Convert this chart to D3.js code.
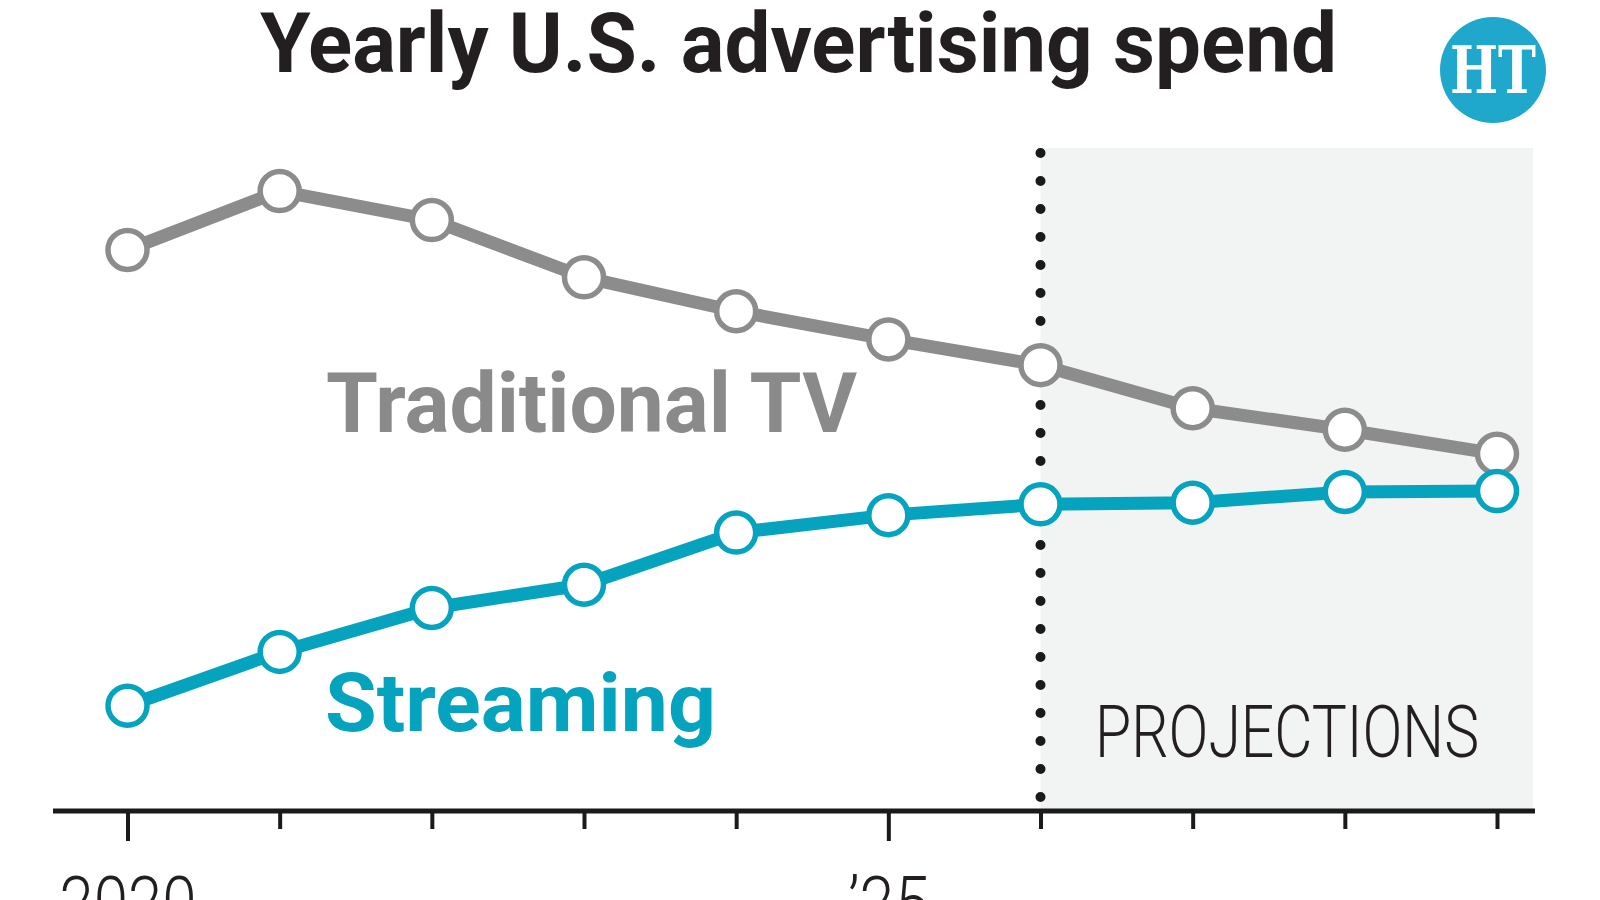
<!DOCTYPE html>
<html>
<head>
<meta charset="utf-8">
<script src="https://cdn.jsdelivr.net/npm/d3@7"></script>
<style>
  html, body { margin: 0; padding: 0; background: #ffffff; }
  svg { display: block; }
</style>
</head>
<body>
<svg id="chart" width="1600" height="900"></svg>
<script>
// ---------- DATA ----------
const years = [2020, 2021, 2022, 2023, 2024, 2025, 2026, 2027, 2028, 2029];
const traditionalTV = [67.7, 74.8, 71.3, 64.4, 60.3, 56.9, 53.8, 48.6, 46.0, 43.1];
const streaming = [12.7, 19.2, 24.5, 27.3, 33.6, 35.7, 37.0, 37.2, 38.5, 38.6];
const labeledYears = [2020, 2025];
const labeledTexts = ["2020", "\u201925"];
const projectionStart = 2026;
const seriesNames = ["Traditional TV", "Streaming"];
const titleText = "Yearly U.S. advertising spend";
const projectionText = "PROJECTIONS";

// ---------- LAYOUT ----------
const W = 1600, H = 900;
const axisY = 811, plotTop = 148;
const svg = d3.select("#chart");
const grey = "#8c8c8c", teal = "#06a3bf";
const boldFont = "Roboto, 'Noto Sans', sans-serif";

const x = d3.scaleLinear().domain([2020, 2029]).range([127.5, 1497]);
const y = d3.scaleLinear().domain([0, 80]).range([axisY, plotTop]);

// Title
svg.append("text")
  .attr("x", 260).attr("y", 72)
  .attr("font-family", boldFont).attr("font-weight", 700)
  .attr("font-size", 84).attr("fill", "#231f20")
  .attr("textLength", 1077).attr("lengthAdjust", "spacingAndGlyphs")
  .text(titleText);

// Logo
const logo = svg.append("g").attr("transform", "translate(1493,70)");
logo.append("circle").attr("r", 53).attr("fill", "#1fa8cb");
logo.append("text")
  .attr("x", 0).attr("y", 23).attr("text-anchor", "middle")
  .attr("font-family", "'DejaVu Serif', serif").attr("font-weight", 700)
  .attr("font-size", 66).attr("fill", "#ffffff")
  .attr("textLength", 86).attr("lengthAdjust", "spacingAndGlyphs")
  .text("HT");

// Projection shading
svg.append("rect")
  .attr("x", x(projectionStart)).attr("y", plotTop)
  .attr("width", 1533 - x(projectionStart)).attr("height", axisY - plotTop)
  .attr("fill", "#f2f3f3");

// Dotted divider
svg.append("line")
  .attr("x1", x(projectionStart)).attr("x2", x(projectionStart))
  .attr("y1", 153).attr("y2", 800)
  .attr("stroke", "#1a1a1a").attr("stroke-width", 10)
  .attr("stroke-linecap", "round").attr("stroke-dasharray", "0 28");

// PROJECTIONS label
svg.append("text")
  .attr("x", 1095).attr("y", 757)
  .attr("font-family", "Roboto, 'Noto Sans', sans-serif").attr("font-weight", 300)
  .attr("font-size", 72).attr("fill", "#231f20")
  .attr("textLength", 384).attr("lengthAdjust", "spacingAndGlyphs")
  .text(projectionText);

// Series labels
svg.append("text")
  .attr("x", 326).attr("y", 432)
  .attr("font-family", boldFont).attr("font-weight", 700)
  .attr("font-size", 84).attr("fill", "#8a8a8a")
  .attr("textLength", 531).attr("lengthAdjust", "spacingAndGlyphs")
  .text(seriesNames[0]);
svg.append("text")
  .attr("x", 325).attr("y", 731)
  .attr("font-family", boldFont).attr("font-weight", 700)
  .attr("font-size", 82).attr("fill", teal)
  .attr("textLength", 391).attr("lengthAdjust", "spacingAndGlyphs")
  .text(seriesNames[1]);

// Axis baseline
svg.append("line")
  .attr("x1", 53).attr("x2", 1535).attr("y1", axisY).attr("y2", axisY)
  .attr("stroke", "#1a1a1a").attr("stroke-width", 5);

// Axis ticks & labels via d3 axis
const axis = d3.axisBottom(x)
  .tickValues(years)
  .tickSize(18)
  .tickFormat(d => { const i = labeledYears.indexOf(d); return i >= 0 ? labeledTexts[i] : ""; });
const gAxis = svg.append("g").attr("transform", `translate(0,${axisY})`).call(axis);
gAxis.select(".domain").remove();
gAxis.selectAll(".tick line")
  .attr("stroke", "#1a1a1a").attr("stroke-width", 4)
  .attr("y2", d => labeledYears.includes(d) ? 30 : 18);
gAxis.selectAll(".tick text")
  .attr("y", 117).attr("dy", 0)
  .attr("font-family", "Roboto, 'Noto Sans', sans-serif").attr("font-weight", 300)
  .attr("font-size", 72).attr("fill", "#231f20")
  .each(function(d) {
    const i = labeledYears.indexOf(d);
    if (i >= 0) d3.select(this).attr("textLength", i === 0 ? 137 : 81).attr("lengthAdjust", "spacingAndGlyphs");
  });

// Series lines & markers
const series = [
  { name: seriesNames[0], values: traditionalTV, color: grey },
  { name: seriesNames[1], values: streaming, color: teal }
];
const line = d3.line().x((d, i) => x(years[i])).y(d => y(d));
series.forEach(s => {
  const g = svg.append("g");
  g.append("path")
    .attr("d", line(s.values))
    .attr("fill", "none").attr("stroke", s.color)
    .attr("stroke-width", 13).attr("stroke-linejoin", "round");
  g.selectAll("circle").data(s.values).join("circle")
    .attr("cx", (d, i) => x(years[i])).attr("cy", d => y(d))
    .attr("r", 19.5).attr("fill", "#ffffff")
    .attr("stroke", s.color).attr("stroke-width", 5.5);
});
</script>
</body>
</html>
